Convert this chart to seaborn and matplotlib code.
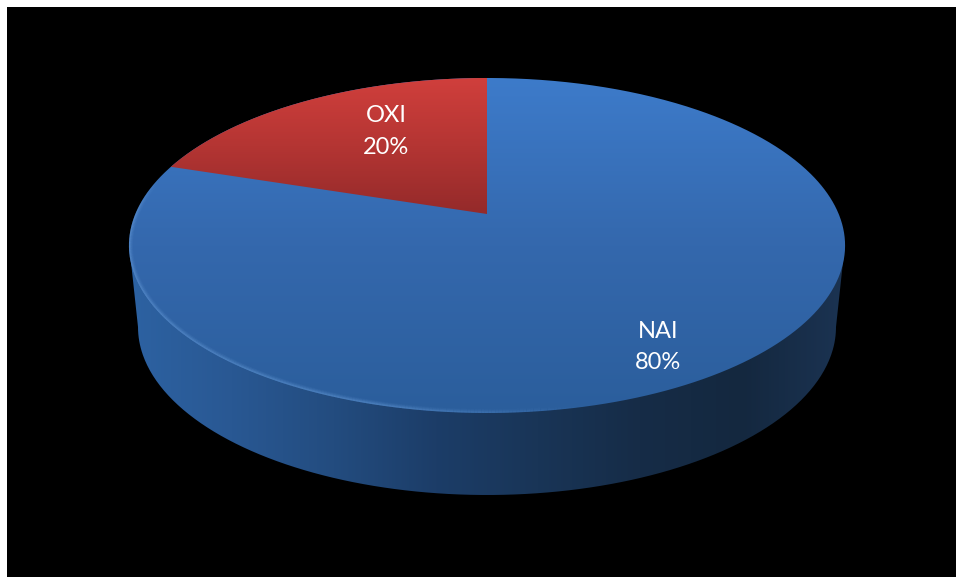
import numpy as np
import matplotlib
matplotlib.use("Agg")
import matplotlib.pyplot as plt
from matplotlib.collections import LineCollection
from matplotlib.patches import PathPatch, Rectangle
from matplotlib.path import Path
import seaborn as sns

# Chart data
categories = ["NAI", "OXI"]
shares = [80, 20]

# Colour ramps for the disc faces and the rim
blue_ramp = ["#3D7BCA", "#3468AD", "#2B5E9C"]
red_ramp = ["#D03F3C", "#B43533", "#942A2A"]
side_ramp = ["#2D62A2", "#295893", "#234C7F", "#1C3D68", "#193557", "#162C47", "#14283F", "#1B3352"]

sns.set_theme(style="white")
plt.rcParams["font.family"] = ["Lato", "DejaVu Sans"]

fig = plt.figure(figsize=(9.56, 5.77), dpi=100, facecolor="white")
ax = fig.add_axes([0, 0, 1, 1])
ax.set_xlim(0, 956)
ax.set_ylim(577, 0)
ax.axis("off")
ax.add_patch(Rectangle((7, 7), 960, 580, facecolor="black", edgecolor="none", zorder=0))

# Perspective projection of the unit disc onto the tilted top face
CX, CY = 487.0, 214.0
SCALE_X, SCALE_Y, TILT = 351.7, 161.6, 0.188


def project(theta):
    u, v = np.cos(theta), np.sin(theta)
    d = 1 + TILT * v
    return np.column_stack([CX + SCALE_X * u / d, CY - SCALE_Y * v / d])


def gradient(colors, box, vertical, clip, zorder):
    cmap = sns.blend_palette(colors, n_colors=256, as_cmap=True)
    ramp = np.linspace(0, 1, 256)
    data = ramp[:, None] if vertical else ramp[None, :]
    x0, x1, y0, y1 = box
    img = ax.imshow(data, cmap=cmap, extent=(x0, x1, y1, y0), origin="upper",
                    aspect="auto", zorder=zorder, interpolation="bilinear")
    ax.set_xlim(0, 956)
    ax.set_ylim(577, 0)
    patch = PathPatch(clip, facecolor="none", edgecolor="none", transform=ax.transData)
    ax.add_patch(patch)
    img.set_clip_path(patch)
    return img


full = np.linspace(0, 2 * np.pi, 721)
top_rim = project(full)

# Side wall: lower half of the base ellipse joined to the widest points of the top
t = np.linspace(np.pi, 0, 300)
base = np.column_stack([487 + 349 * np.cos(t), 327 + 168 * np.sin(t)])
wall = np.vstack([[[129, 245]], [[131, 262]], base, [[843, 262]], [[845, 245]]])
gradient(side_ramp, (129, 845, 78, 500), False, Path(wall), 1)

# Top face: the whole disc in blue with the red slice laid over it
gradient(blue_ramp, (0, 956, 78, 413), True, Path(top_rim), 2)

frac = np.array(shares, dtype=float) / sum(shares)
start = np.pi / 2
sweep = np.linspace(start, start + 2 * np.pi * frac[1], 200)
wedge = np.vstack([project(sweep), [[CX, CY]]])
gradient(red_ramp, (0, 956, 78, 214), True, Path(wedge), 3)

# Soft bevel along the front edge, holding its strength up to the front and then fading
bevel_angles = np.linspace(np.radians(165), np.radians(285), 260)
pts = project(bevel_angles)
segs = np.stack([pts[:-1], pts[1:]], axis=1)
mid = bevel_angles[:-1]
fade = np.clip((np.radians(285) - mid) / np.radians(30), 0, 1) * np.clip((mid - np.radians(165)) / np.radians(15), 0, 1)
clip_patch = PathPatch(Path(top_rim), facecolor="none", edgecolor="none", transform=ax.transData)
ax.add_patch(clip_patch)
for width, strength in [(6, 0.05), (5, 0.06), (4, 0.08), (3, 0.10), (2, 0.14)]:
    colors = np.zeros((len(segs), 4))
    colors[:, :3] = matplotlib.colors.to_rgb("#7DB2EE")
    colors[:, 3] = fade * strength
    lc = LineCollection(segs, colors=colors, linewidths=width, zorder=4, capstyle="butt")
    ax.add_collection(lc)
    lc.set_clip_path(clip_patch)

# Slice labels: category name above its share
label_x = [658, 386]
name_baseline = [337.5, 122]
share_baseline = [369, 153.5]
for name, share, x, y0, y1 in zip(categories, shares, label_x, name_baseline, share_baseline):
    ax.text(x, y0, name, color="white", fontsize=17, ha="center", va="baseline", zorder=5)
    ax.text(x, y1, f"{share}%", color="white", fontsize=17, ha="center", va="baseline", zorder=5)

fig.savefig("out.png", dpi=100, facecolor="white")
